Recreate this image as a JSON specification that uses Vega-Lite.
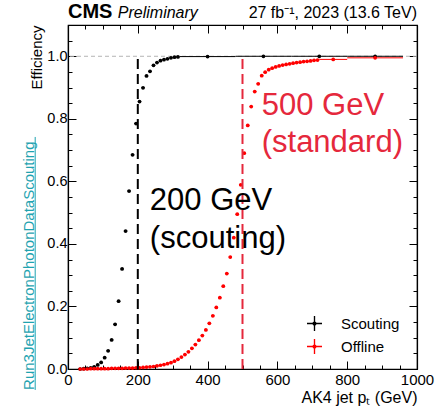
{
  "$schema": "https://vega.github.io/schema/vega-lite/v6.json",
  "width": 349,
  "height": 344,
  "autosize": {"type": "none"},
  "padding": {"left": 68, "top": 25, "right": 25, "bottom": 38},
  "config": {
    "view": {"stroke": "black", "strokeWidth": 1.2},
    "font": "Liberation Sans",
    "axis": {
      "domainColor": "black", "domainWidth": 1.2, "tickColor": "black", "tickWidth": 1,
      "labelColor": "black", "titleColor": "black", "grid": false,
      "labelFont": "Liberation Sans", "titleFont": "Liberation Sans",
      "labelFontSize": 15, "titleFontWeight": "normal", "labelOverlap": false, "labelFlush": false
    }
  },
  "datasets": {
    "eff": [
      {"s": "Scouting", "x": 35, "lo": 30, "hi": 40, "y": 0.000},
      {"s": "Scouting", "x": 45, "lo": 40, "hi": 50, "y": 0.001},
      {"s": "Scouting", "x": 55, "lo": 50, "hi": 60, "y": 0.002},
      {"s": "Scouting", "x": 65, "lo": 60, "hi": 70, "y": 0.004},
      {"s": "Scouting", "x": 75, "lo": 70, "hi": 80, "y": 0.007},
      {"s": "Scouting", "x": 85, "lo": 80, "hi": 90, "y": 0.013},
      {"s": "Scouting", "x": 95, "lo": 90, "hi": 100, "y": 0.021},
      {"s": "Scouting", "x": 105, "lo": 100, "hi": 110, "y": 0.036},
      {"s": "Scouting", "x": 115, "lo": 110, "hi": 120, "y": 0.058},
      {"s": "Scouting", "x": 125, "lo": 120, "hi": 130, "y": 0.093},
      {"s": "Scouting", "x": 135, "lo": 130, "hi": 140, "y": 0.143},
      {"s": "Scouting", "x": 145, "lo": 140, "hi": 150, "y": 0.217},
      {"s": "Scouting", "x": 155, "lo": 150, "hi": 160, "y": 0.320},
      {"s": "Scouting", "x": 165, "lo": 160, "hi": 170, "y": 0.441},
      {"s": "Scouting", "x": 175, "lo": 170, "hi": 180, "y": 0.569},
      {"s": "Scouting", "x": 185, "lo": 180, "hi": 190, "y": 0.685},
      {"s": "Scouting", "x": 195, "lo": 190, "hi": 200, "y": 0.785},
      {"s": "Scouting", "x": 205, "lo": 200, "hi": 210, "y": 0.855},
      {"s": "Scouting", "x": 215, "lo": 210, "hi": 220, "y": 0.899},
      {"s": "Scouting", "x": 225, "lo": 220, "hi": 230, "y": 0.937},
      {"s": "Scouting", "x": 235, "lo": 230, "hi": 240, "y": 0.952},
      {"s": "Scouting", "x": 245, "lo": 240, "hi": 250, "y": 0.971},
      {"s": "Scouting", "x": 255, "lo": 250, "hi": 260, "y": 0.980},
      {"s": "Scouting", "x": 265, "lo": 260, "hi": 270, "y": 0.986},
      {"s": "Scouting", "x": 275, "lo": 270, "hi": 280, "y": 0.989},
      {"s": "Scouting", "x": 285, "lo": 280, "hi": 290, "y": 0.992},
      {"s": "Scouting", "x": 295, "lo": 290, "hi": 300, "y": 0.995},
      {"s": "Scouting", "x": 305, "lo": 300, "hi": 310, "y": 0.997},
      {"s": "Scouting", "x": 315, "lo": 310, "hi": 320, "y": 0.998},
      {"s": "Scouting", "x": 400, "lo": 320, "hi": 480, "y": 0.999},
      {"s": "Scouting", "x": 560, "lo": 480, "hi": 640, "y": 1.0},
      {"s": "Scouting", "x": 720, "lo": 640, "hi": 800, "y": 1.0},
      {"s": "Scouting", "x": 880, "lo": 800, "hi": 960, "y": 1.0},
      {"s": "Offline", "x": 35, "lo": 30, "hi": 40, "y": 0.000},
      {"s": "Offline", "x": 45, "lo": 40, "hi": 50, "y": 0.000},
      {"s": "Offline", "x": 55, "lo": 50, "hi": 60, "y": 0.000},
      {"s": "Offline", "x": 65, "lo": 60, "hi": 70, "y": 0.001},
      {"s": "Offline", "x": 75, "lo": 70, "hi": 80, "y": 0.001},
      {"s": "Offline", "x": 85, "lo": 80, "hi": 90, "y": 0.001},
      {"s": "Offline", "x": 95, "lo": 90, "hi": 100, "y": 0.001},
      {"s": "Offline", "x": 105, "lo": 100, "hi": 110, "y": 0.001},
      {"s": "Offline", "x": 115, "lo": 110, "hi": 120, "y": 0.001},
      {"s": "Offline", "x": 125, "lo": 120, "hi": 130, "y": 0.002},
      {"s": "Offline", "x": 135, "lo": 130, "hi": 140, "y": 0.002},
      {"s": "Offline", "x": 145, "lo": 140, "hi": 150, "y": 0.002},
      {"s": "Offline", "x": 155, "lo": 150, "hi": 160, "y": 0.002},
      {"s": "Offline", "x": 165, "lo": 160, "hi": 170, "y": 0.003},
      {"s": "Offline", "x": 175, "lo": 170, "hi": 180, "y": 0.003},
      {"s": "Offline", "x": 185, "lo": 180, "hi": 190, "y": 0.003},
      {"s": "Offline", "x": 195, "lo": 190, "hi": 200, "y": 0.004},
      {"s": "Offline", "x": 205, "lo": 200, "hi": 210, "y": 0.004},
      {"s": "Offline", "x": 215, "lo": 210, "hi": 220, "y": 0.005},
      {"s": "Offline", "x": 225, "lo": 220, "hi": 230, "y": 0.006},
      {"s": "Offline", "x": 235, "lo": 230, "hi": 240, "y": 0.007},
      {"s": "Offline", "x": 245, "lo": 240, "hi": 250, "y": 0.008},
      {"s": "Offline", "x": 255, "lo": 250, "hi": 260, "y": 0.010},
      {"s": "Offline", "x": 265, "lo": 260, "hi": 270, "y": 0.012},
      {"s": "Offline", "x": 275, "lo": 270, "hi": 280, "y": 0.014},
      {"s": "Offline", "x": 285, "lo": 280, "hi": 290, "y": 0.017},
      {"s": "Offline", "x": 295, "lo": 290, "hi": 300, "y": 0.020},
      {"s": "Offline", "x": 305, "lo": 300, "hi": 310, "y": 0.025},
      {"s": "Offline", "x": 315, "lo": 310, "hi": 320, "y": 0.031},
      {"s": "Offline", "x": 325, "lo": 320, "hi": 330, "y": 0.038},
      {"s": "Offline", "x": 335, "lo": 330, "hi": 340, "y": 0.046},
      {"s": "Offline", "x": 345, "lo": 340, "hi": 350, "y": 0.055},
      {"s": "Offline", "x": 355, "lo": 350, "hi": 360, "y": 0.066},
      {"s": "Offline", "x": 365, "lo": 360, "hi": 370, "y": 0.078},
      {"s": "Offline", "x": 375, "lo": 370, "hi": 380, "y": 0.092},
      {"s": "Offline", "x": 385, "lo": 380, "hi": 390, "y": 0.107},
      {"s": "Offline", "x": 395, "lo": 390, "hi": 400, "y": 0.125},
      {"s": "Offline", "x": 405, "lo": 400, "hi": 410, "y": 0.146},
      {"s": "Offline", "x": 415, "lo": 410, "hi": 420, "y": 0.170},
      {"s": "Offline", "x": 425, "lo": 420, "hi": 430, "y": 0.197},
      {"s": "Offline", "x": 435, "lo": 430, "hi": 440, "y": 0.228},
      {"s": "Offline", "x": 445, "lo": 440, "hi": 450, "y": 0.265},
      {"s": "Offline", "x": 455, "lo": 450, "hi": 460, "y": 0.305},
      {"s": "Offline", "x": 465, "lo": 460, "hi": 470, "y": 0.358},
      {"s": "Offline", "x": 475, "lo": 470, "hi": 480, "y": 0.420},
      {"s": "Offline", "x": 485, "lo": 480, "hi": 490, "y": 0.495},
      {"s": "Offline", "x": 495, "lo": 490, "hi": 500, "y": 0.589},
      {"s": "Offline", "x": 505, "lo": 500, "hi": 510, "y": 0.690},
      {"s": "Offline", "x": 515, "lo": 510, "hi": 520, "y": 0.779},
      {"s": "Offline", "x": 525, "lo": 520, "hi": 530, "y": 0.839},
      {"s": "Offline", "x": 535, "lo": 530, "hi": 540, "y": 0.887},
      {"s": "Offline", "x": 545, "lo": 540, "hi": 550, "y": 0.912},
      {"s": "Offline", "x": 555, "lo": 550, "hi": 560, "y": 0.938},
      {"s": "Offline", "x": 565, "lo": 560, "hi": 570, "y": 0.949},
      {"s": "Offline", "x": 575, "lo": 570, "hi": 580, "y": 0.957},
      {"s": "Offline", "x": 585, "lo": 580, "hi": 590, "y": 0.962},
      {"s": "Offline", "x": 595, "lo": 590, "hi": 600, "y": 0.966},
      {"s": "Offline", "x": 605, "lo": 600, "hi": 610, "y": 0.969},
      {"s": "Offline", "x": 615, "lo": 610, "hi": 620, "y": 0.972},
      {"s": "Offline", "x": 625, "lo": 620, "hi": 630, "y": 0.974},
      {"s": "Offline", "x": 635, "lo": 630, "hi": 640, "y": 0.976},
      {"s": "Offline", "x": 645, "lo": 640, "hi": 650, "y": 0.978},
      {"s": "Offline", "x": 655, "lo": 650, "hi": 660, "y": 0.980},
      {"s": "Offline", "x": 665, "lo": 660, "hi": 670, "y": 0.981},
      {"s": "Offline", "x": 675, "lo": 670, "hi": 680, "y": 0.983},
      {"s": "Offline", "x": 685, "lo": 680, "hi": 690, "y": 0.984},
      {"s": "Offline", "x": 695, "lo": 690, "hi": 700, "y": 0.985},
      {"s": "Offline", "x": 705, "lo": 700, "hi": 710, "y": 0.987},
      {"s": "Offline", "x": 715, "lo": 710, "hi": 720, "y": 0.988},
      {"s": "Offline", "x": 760, "lo": 720, "hi": 800, "y": 0.990},
      {"s": "Offline", "x": 880, "lo": 800, "hi": 960, "y": 0.995}
    ]
  },
  "resolve": {"axis": {"x": "independent", "y": "independent"}},
  "layer": [
    {
      "data": {"values": [{"y": 1}]},
      "mark": {"type": "rule", "color": "#b4b4b4", "strokeDash": [4, 3], "strokeWidth": 1},
      "encoding": {
        "y": {"field": "y", "type": "quantitative", "scale": {"domain": [0, 1.1], "nice": false}, "axis": null}
      }
    },
    {
      "data": {"name": "eff"},
      "transform": [{"filter": "datum.s === 'Scouting'"}],
      "mark": {"type": "rule", "strokeWidth": 1, "color": "black"},
      "encoding": {
        "x": {"field": "lo", "type": "quantitative", "scale": {"domain": [0, 1000], "nice": false, "zero": false}, "axis": null},
        "x2": {"field": "hi"},
        "y": {"field": "y", "type": "quantitative", "scale": {"domain": [0, 1.1], "nice": false}, "axis": null}
      }
    },
    {
      "data": {"name": "eff"},
      "transform": [{"filter": "datum.s === 'Offline'"}],
      "mark": {"type": "rule", "strokeWidth": 1, "color": "#ff0000"},
      "encoding": {
        "x": {"field": "lo", "type": "quantitative", "scale": {"domain": [0, 1000], "nice": false, "zero": false}, "axis": null},
        "x2": {"field": "hi"},
        "y": {"field": "y", "type": "quantitative", "scale": {"domain": [0, 1.1], "nice": false}, "axis": null}
      }
    },
    {
      "data": {"name": "eff"},
      "mark": {"type": "point", "filled": true, "size": 14, "opacity": 1},
      "encoding": {
        "x": {"field": "x", "type": "quantitative", "scale": {"domain": [0, 1000], "nice": false, "zero": false},
          "axis": {
            "orient": "bottom",
            "values": [0, 50, 100, 150, 200, 250, 300, 350, 400, 450, 500, 550, 600, 650, 700, 750, 800, 850, 900, 950, 1000],
            "format": "d",
            "labelExpr": "datum.value % 200 === 0 ? datum.label : ''",
            "tickSize": {"condition": {"test": "datum.value % 200 === 0", "value": -8}, "value": -4},
            "labelPadding": 11,
            "title": "AK4 jet pₜ (GeV)",
            "titleFontSize": 16,
            "titleAnchor": "end",
            "titleAlign": "right",
            "titleBaseline": "alphabetic",
            "titleX": 349,
            "titleY": 33
          }
        },
        "y": {"field": "y", "type": "quantitative", "scale": {"domain": [0, 1.1], "nice": false},
          "axis": {
            "orient": "left",
            "values": [0, 0.05, 0.1, 0.15, 0.2, 0.25, 0.3, 0.35, 0.4, 0.45, 0.5, 0.55, 0.6, 0.65, 0.7, 0.75, 0.8, 0.85, 0.9, 0.95, 1, 1.05, 1.1],
            "format": ".1f",
            "labelExpr": "abs(datum.value*5 - round(datum.value*5)) < 0.001 && datum.value < 1.05 ? datum.label : ''",
            "tickSize": {"condition": {"test": "abs(datum.value*5 - round(datum.value*5)) < 0.001", "value": -8}, "value": -4},
            "labelPadding": 9,
            "labelFontSize": 14.5,
            "title": "Efficiency",
            "titleFontSize": 15,
            "titleAnchor": "end",
            "titleAlign": "right",
            "titleBaseline": "middle",
            "titleAngle": 270,
            "titleX": -32,
            "titleY": 0
          }
        },
        "color": {"field": "s", "type": "nominal", "scale": {"domain": ["Scouting", "Offline"], "range": ["black", "#ff0000"]},
          "legend": {
            "orient": "none", "legendX": 239, "legendY": 291, "title": null,
            "symbolType": "M-1,-0.09H1V0.09H-1Z M-0.09,-1H0.09V1H-0.09Z M0.28,0A0.28,0.28 0 1,1 -0.28,0A0.28,0.28 0 1,1 0.28,0Z",
            "symbolSize": 225, "symbolStrokeWidth": 0, "labelFontSize": 15, "labelOffset": 19,
            "rowPadding": 7, "padding": 0, "labelColor": "black", "labelFont": "Liberation Sans"
          }
        }
      }
    },
    {
      "data": {"values": [{"cut": 200, "y0": 0, "y1": 1}]},
      "mark": {"type": "rule", "color": "black", "strokeDash": [10, 5], "strokeWidth": 2},
      "encoding": {
        "x": {"field": "cut", "type": "quantitative", "scale": {"domain": [0, 1000], "nice": false, "zero": false},
          "axis": {
            "orient": "top", "labels": false, "title": null,
            "values": [0, 50, 100, 150, 200, 250, 300, 350, 400, 450, 500, 550, 600, 650, 700, 750, 800, 850, 900, 950, 1000],
            "tickSize": {"condition": {"test": "datum.value % 200 === 0", "value": -8}, "value": -4}
          }
        },
        "y": {"field": "y0", "type": "quantitative", "scale": {"domain": [0, 1.1], "nice": false},
          "axis": {
            "orient": "right", "labels": false, "title": null,
            "values": [0, 0.05, 0.1, 0.15, 0.2, 0.25, 0.3, 0.35, 0.4, 0.45, 0.5, 0.55, 0.6, 0.65, 0.7, 0.75, 0.8, 0.85, 0.9, 0.95, 1, 1.05, 1.1],
            "tickSize": {"condition": {"test": "abs(datum.value*5 - round(datum.value*5)) < 0.001", "value": -8}, "value": -4}
          }
        },
        "y2": {"field": "y1"}
      }
    },
    {
      "data": {"values": [{"cut": 500, "y0": 0, "y1": 1}]},
      "mark": {"type": "rule", "color": "#e5283c", "strokeDash": [10, 5], "strokeWidth": 2},
      "encoding": {
        "x": {"field": "cut", "type": "quantitative", "scale": {"domain": [0, 1000], "nice": false, "zero": false}, "axis": null},
        "y": {"field": "y0", "type": "quantitative", "scale": {"domain": [0, 1.1], "nice": false}, "axis": null},
        "y2": {"field": "y1"}
      }
    },
    {
      "data": {"values": [{"t": "200 GeV", "x": 234.5, "y": 0.508}, {"t": "(scouting)", "x": 234.5, "y": 0.387}]},
      "mark": {"type": "text", "align": "left", "baseline": "alphabetic", "fontSize": 31, "color": "black"},
      "encoding": {
        "x": {"field": "x", "type": "quantitative", "scale": {"domain": [0, 1000], "nice": false, "zero": false}, "axis": null},
        "y": {"field": "y", "type": "quantitative", "scale": {"domain": [0, 1.1], "nice": false}, "axis": null},
        "text": {"field": "t"}
      }
    },
    {
      "data": {"values": [{"t": "500 GeV", "x": 555, "y": 0.812}, {"t": "(standard)", "x": 555, "y": 0.694}]},
      "mark": {"type": "text", "align": "left", "baseline": "alphabetic", "fontSize": 31, "color": "#e5283c"},
      "encoding": {
        "x": {"field": "x", "type": "quantitative", "scale": {"domain": [0, 1000], "nice": false, "zero": false}, "axis": null},
        "y": {"field": "y", "type": "quantitative", "scale": {"domain": [0, 1.1], "nice": false}, "axis": null},
        "text": {"field": "t"}
      }
    },
    {
      "data": {"values": [{"t": "CMS", "x": 0, "y": 1.1224}]},
      "mark": {"type": "text", "align": "left", "baseline": "alphabetic", "fontSize": 20, "fontWeight": "bold", "color": "black"},
      "encoding": {
        "x": {"field": "x", "type": "quantitative", "scale": {"domain": [0, 1000], "nice": false, "zero": false}, "axis": null},
        "y": {"field": "y", "type": "quantitative", "scale": {"domain": [0, 1.1], "nice": false}, "axis": null},
        "text": {"field": "t"}
      }
    },
    {
      "data": {"values": [{"t": "Preliminary", "x": 142.7, "y": 1.1224}]},
      "mark": {"type": "text", "align": "left", "baseline": "alphabetic", "fontSize": 16, "fontStyle": "italic", "color": "black"},
      "encoding": {
        "x": {"field": "x", "type": "quantitative", "scale": {"domain": [0, 1000], "nice": false, "zero": false}, "axis": null},
        "y": {"field": "y", "type": "quantitative", "scale": {"domain": [0, 1.1], "nice": false}, "axis": null},
        "text": {"field": "t"}
      }
    },
    {
      "data": {"values": [{"t": "27 fb⁻¹, 2023 (13.6 TeV)", "x": 1000, "y": 1.1224}]},
      "mark": {"type": "text", "align": "right", "baseline": "alphabetic", "fontSize": 16, "color": "black"},
      "encoding": {
        "x": {"field": "x", "type": "quantitative", "scale": {"domain": [0, 1000], "nice": false, "zero": false}, "axis": null},
        "y": {"field": "y", "type": "quantitative", "scale": {"domain": [0, 1.1], "nice": false}, "axis": null},
        "text": {"field": "t"}
      }
    },
    {
      "data": {"values": [{"t": "Run3JetElectronPhotonDataScouting", "x": -98.5, "y": -0.067}]},
      "mark": {"type": "text", "align": "left", "baseline": "alphabetic", "angle": 270, "fontSize": 15, "color": "#1fa3b0"},
      "encoding": {
        "x": {"field": "x", "type": "quantitative", "scale": {"domain": [0, 1000], "nice": false, "zero": false}, "axis": null},
        "y": {"field": "y", "type": "quantitative", "scale": {"domain": [0, 1.1], "nice": false}, "axis": null},
        "text": {"field": "t"}
      }
    },
    {
      "data": {"values": [{"x": -94, "y0": -0.067, "y1": 0.742}]},
      "mark": {"type": "rule", "color": "#1fa3b0", "strokeWidth": 1},
      "encoding": {
        "x": {"field": "x", "type": "quantitative", "scale": {"domain": [0, 1000], "nice": false, "zero": false}, "axis": null},
        "y": {"field": "y0", "type": "quantitative", "scale": {"domain": [0, 1.1], "nice": false}, "axis": null},
        "y2": {"field": "y1"}
      }
    }
  ]
}
